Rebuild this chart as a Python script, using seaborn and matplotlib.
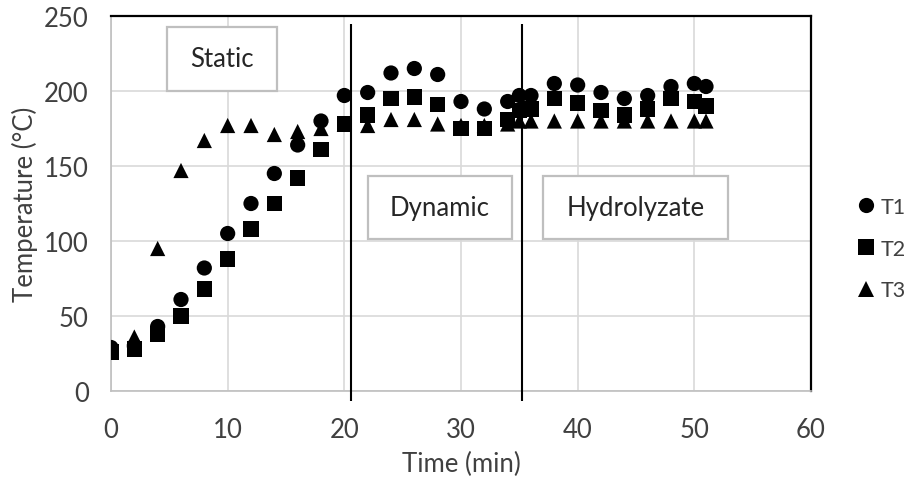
import numpy as np
import pandas as pd
import seaborn as sns
import matplotlib.pyplot as plt
from matplotlib.patches import Rectangle

# ---- data ----
time_min = [0, 2, 4, 6, 8, 10, 12, 14, 16, 18, 20, 22, 24, 26, 28, 30, 32, 34, 35, 36,
            38, 40, 42, 44, 46, 48, 50, 51]
t1 = [29, 30, 43, 61, 82, 105, 125, 145, 164, 180, 197, 199, 212, 215, 211, 193, 188, 193,
      197, 197, 205, 204, 199, 195, 197, 203, 205, 203]
t2 = [26, 28, 38, 50, 68, 88, 108, 125, 142, 161, 178, 184, 195, 196, 191, 175, 175, 181,
      187, 188, 195, 192, 187, 184, 188, 195, 193, 190]
t3 = [27, 36, 95, 147, 167, 177, 177, 171, 173, 175, 178, 177, 181, 181, 178, 177, 177, 178,
      180, 180, 180, 180, 180, 180, 180, 180, 180, 180]
series_names = ["T1", "T2", "T3"]
phase_boundaries = [20.6, 35.2]
phase_labels = ["Static", "Dynamic", "Hydrolyzate"]
x_ticks = [0, 10, 20, 30, 40, 50, 60]
y_ticks = [0, 50, 100, 150, 200, 250]

n = len(time_min)
df = pd.DataFrame({
    "Time": time_min * 3,
    "Temperature": t1 + t2 + t3,
    "Series": [series_names[0]] * n + [series_names[1]] * n + [series_names[2]] * n,
})

sns.set_theme(style="white")
plt.rcParams["font.family"] = ["Lato", "DejaVu Sans"]
FS = 18.5
LFS = 15.5
TXT = "#404040"

fig = plt.figure(figsize=(9.11, 4.89), dpi=100)
ax = fig.add_axes([111 / 911, 1 - 392 / 489, 700 / 911, 375 / 489])

sns.scatterplot(data=df, x="Time", y="Temperature", style="Series",
                markers={"T1": "o", "T2": "s", "T3": "^"},
                color="black", s=120, linewidth=0, ax=ax, legend=True, zorder=3)

ax.set_xlim(0, 60)
ax.set_ylim(0, 250)
ax.set_xticks(x_ticks)
ax.set_yticks(y_ticks)
ax.grid(True, color="#d9d9d9", linewidth=1.2)
ax.set_axisbelow(True)
ax.tick_params(axis="both", length=0, labelsize=FS, colors=TXT)
ax.tick_params(axis="y", pad=16)
ax.tick_params(axis="x", pad=19)
ax.set_xlabel("Time (min)", fontsize=FS, color=TXT, labelpad=6)
ax.set_ylabel("Temperature (°C)", fontsize=FS, color=TXT, labelpad=4)

for side in ["left", "bottom"]:
    ax.spines[side].set_color("#bfbfbf")
    ax.spines[side].set_linewidth(1.2)
for side in ["top", "right"]:
    ax.spines[side].set_color("black")
    ax.spines[side].set_linewidth(1.6)

# phase boundary lines
ax.vlines(phase_boundaries, -6.7, 244.7, colors="black", linewidth=1.5,
          clip_on=False, zorder=4)

# phase label boxes (axes fraction)
boxes = [(0.080, 0.800, 0.157, 0.171),
         (0.367, 0.405, 0.206, 0.168),
         (0.617, 0.405, 0.264, 0.168)]
for (bx, by, bw, bh), lab in zip(boxes, phase_labels):
    ax.add_patch(Rectangle((bx, by), bw, bh, transform=ax.transAxes,
                           facecolor="white", edgecolor="#bfbfbf",
                           linewidth=1.6, zorder=5))
    ax.text(bx + bw / 2, by + bh / 2, lab, transform=ax.transAxes,
            ha="center", va="center", fontsize=FS, color="#262626", zorder=6)

sns.move_legend(ax, "upper left", bbox_to_anchor=(853 / 911, 1 - 198 / 489),
                bbox_transform=fig.transFigure, frameon=False, title=None,
                fontsize=LFS, labelspacing=1.0, handletextpad=0.1,
                handlelength=1.2, borderpad=0, borderaxespad=0)
for t in ax.get_legend().get_texts():
    t.set_color(TXT)

fig.savefig("out.png", dpi=100)
